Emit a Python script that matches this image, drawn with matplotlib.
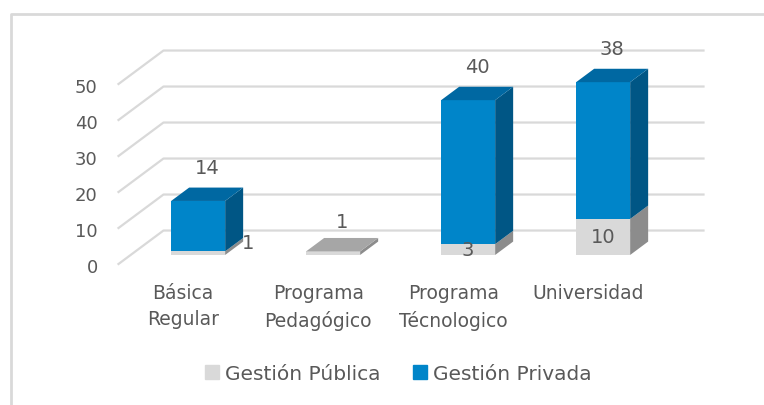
import numpy as np
import matplotlib
matplotlib.use("Agg")
import matplotlib.pyplot as plt
from matplotlib.patches import Polygon
from matplotlib.lines import Line2D

plt.rcParams['font.family'] = ['DejaVu Sans']

categories = ['Básica\nRegular', 'Programa\nPedagógico', 'Programa\nTécnologico', 'Universidad']
publica = [1, 1, 3, 10]
privada = [14, 0, 40, 38]
yticks = [0, 10, 20, 30, 40, 50]
series_names = ['Gestión Pública', 'Gestión Privada']

txt = '#595959'
grid_c = '#d9d9d9'
pub_cols = ('#d9d9d9', '#8c8c8c', '#a6a6a6')   # front, side, top
priv_cols = ('#0085c9', '#005685', '#0068a2')

# oblique "3d" look: depth t in [0, 1]
DX, DV = 1 / 3, 9.3
t0, t1 = 0.27, 0.67
w = 0.4


def proj(x, v, t):
    return x + t * DX, v + t * DV


fig = plt.figure(figsize=(7.64, 4.06), dpi=100)
ax = fig.add_axes([0, 0, 1, 1])
ax.set_xlim(-186 / 135, (764 - 186) / 135)
ax.set_ylim((265 - 406) / 3.6, 265 / 3.6)
ax.axis('off')

# chart border (cropped)
ax.plot([-1.3, -1.3, 5], [(265 - 406) / 3.6 - 5, (265 - 15) / 3.6, (265 - 15) / 3.6],
        color=grid_c, lw=2, clip_on=False, zorder=0)

n = len(categories)
xl_wall, xr_wall = -0.5, n - 0.5
for v in yticks:
    pts = [proj(xl_wall, v, 0), proj(xl_wall, v, 1), proj(xr_wall, v, 1)]
    ax.plot([p[0] for p in pts], [p[1] for p in pts], color=grid_c, lw=1.6, zorder=1)
    ax.annotate(str(v), proj(xl_wall, v, 0), xytext=(-15, -2), textcoords='offset points',
                ha='right', va='center', fontsize=13, color=txt)


def box(x, lo, hi, cols, top=True):
    xl, xr = x - w / 2, x + w / 2
    front = [proj(xl, lo, t0), proj(xr, lo, t0), proj(xr, hi, t0), proj(xl, hi, t0)]
    side = [proj(xr, lo, t0), proj(xr, lo, t1), proj(xr, hi, t1), proj(xr, hi, t0)]
    ax.add_patch(Polygon(front, closed=True, fc=cols[0], ec='none', zorder=3))
    ax.add_patch(Polygon(side, closed=True, fc=cols[1], ec='none', zorder=3))
    if top:
        tp = [proj(xl, hi, t0), proj(xr, hi, t0), proj(xr, hi, t1), proj(xl, hi, t1)]
        ax.add_patch(Polygon(tp, closed=True, fc=cols[2], ec='none', zorder=3))


tm = (t0 + t1) / 2
for i in range(n):
    pb, pv = publica[i], privada[i]
    box(i, 0, pb, pub_cols, top=(pv == 0))
    if pv > 0:
        box(i, pb, pb + pv, priv_cols)
        ax.annotate(str(pv), proj(i, pb + pv + 7.5, tm), ha='center', va='center',
                    fontsize=14, color=txt, zorder=5)
    # public labels
    if pb >= 3:
        ax.annotate(str(pb), proj(i, pb / 2, t0), ha='center', va='center',
                    fontsize=14, color=txt, zorder=5)
    elif pv > 0:
        ax.annotate(str(pb), proj(i + w / 2, pb / 2, t1), xytext=(-1, -2),
                    textcoords='offset points', ha='left', va='center',
                    fontsize=14, color=txt, zorder=5)
    else:
        ax.annotate(str(pb), proj(i, pb + 6.5, tm), ha='center', va='center',
                    fontsize=14, color=txt, zorder=5)
    ax.annotate(categories[i], proj(i, 0, 0), xytext=(-2, -14), textcoords='offset points',
                ha='center', va='top', fontsize=13.5, color=txt, linespacing=1.45)

handles = [Line2D([], [], ls='none', marker='s', markersize=9.5, color=pub_cols[0]),
           Line2D([], [], ls='none', marker='s', markersize=9.5, color=priv_cols[0])]
fig.legend(handles, series_names, loc='center', bbox_to_anchor=(398.5 / 764, 1 - 375 / 406),
           ncol=2, frameon=False, fontsize=14.5, labelcolor=txt, handlelength=0.7,
           handletextpad=0.3, columnspacing=1.6)

fig.savefig('out.png', dpi=100)
